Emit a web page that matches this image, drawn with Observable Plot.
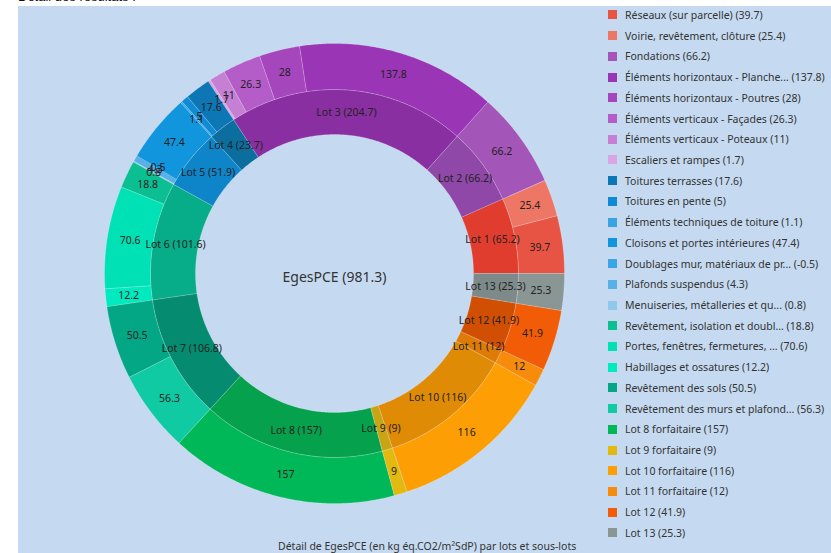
<!DOCTYPE html>
<html><head><meta charset="utf-8">
<script src="https://cdn.jsdelivr.net/npm/d3@7"></script>
<script src="https://cdn.jsdelivr.net/npm/@observablehq/plot@0.6"></script>
<style>
html,body{margin:0;padding:0;background:#fff;width:831px;height:553px;overflow:hidden;font-family:"Noto Sans",sans-serif;}
#title{position:absolute;left:18px;top:-11px;font-family:"Liberation Sans",Arial,sans-serif;font-size:13px;line-height:16px;color:#111;white-space:nowrap;}
#panel{position:absolute;left:18px;top:6px;width:813px;height:547px;background:#c5daf0;}
#chart{position:absolute;left:0;top:0;}
#legend{position:absolute;left:608px;top:4.6px;}
.row{height:20.72px;display:flex;align-items:center;font-size:10.5px;color:#333;white-space:nowrap;}
.sw{width:9px;height:9px;margin-right:8px;flex:none;}
#caption{position:absolute;left:278px;top:539px;font-size:10.5px;color:#333;white-space:nowrap;}
</style></head><body>
<div id="title">Détail des résultats :</div>
<div id="panel"></div>
<div id="chart"></div>
<div id="legend"></div>
<div id="caption"></div>
<script>
const lots = ["Lot 1","Lot 2","Lot 3","Lot 4","Lot 5","Lot 6","Lot 7","Lot 8","Lot 9","Lot 10","Lot 11","Lot 12","Lot 13"];
const lotValues = [65.2, 66.2, 204.7, 23.7, 51.9, 101.6, 106.8, 157, 9, 116, 12, 41.9, 25.3];
const lotColors = ["#e13d2f","#8f48a8","#8a2fa2","#0b6e9f","#0f85c9","#07ac88","#058c70","#06a14c","#c9a516","#e08b05","#de7a06","#d04f03","#7e8a89"];

const subLabels = [
  "Réseaux (sur parcelle)","Voirie, revêtement, clôture","Fondations",
  "Éléments horizontaux - Planche...","Éléments horizontaux - Poutres","Éléments verticaux - Façades","Éléments verticaux - Poteaux","Escaliers et rampes",
  "Toitures terrasses","Toitures en pente","Éléments techniques de toiture",
  "Cloisons et portes intérieures","Doublages mur, matériaux de pr...","Plafonds suspendus","Menuiseries, métalleries et qu...",
  "Revêtement, isolation et doubl...","Portes, fenêtres, fermetures, ...","Habillages et ossatures",
  "Revêtement des sols","Revêtement des murs et plafond...",
  "Lot 8 forfaitaire","Lot 9 forfaitaire","Lot 10 forfaitaire","Lot 11 forfaitaire","Lot 12","Lot 13"];
const subValues = [39.7, 25.4, 66.2, 137.8, 28, 26.3, 11, 1.7, 17.6, 5, 1.1, 47.4, -0.5, 4.3, 0.8, 18.8, 70.6, 12.2, 50.5, 56.3, 157, 9, 116, 12, 41.9, 25.3];
const subLots = [0,0,1,2,2,2,2,2,3,3,3,4,4,4,4,5,5,5,6,6,7,8,9,10,11,12];
const subColors = ["#e85444","#ee7665","#a455b8","#9a35b5","#a646bd","#b45cc8","#c580d4","#dba4e3",
  "#0d76b5","#0f8bd6","#3aa3e2","#1195dd","#3aa5e5","#58b0e6","#90c8ec",
  "#0cbf93","#00e2b6","#00eac0","#04a785","#0fcaa3",
  "#00b858","#e2b90e","#fd9e04","#f78b0c","#f25c06","#8a9694"];

const totalLabel = "EgesPCE";
const captionText = "Détail de EgesPCE (en kg éq.CO2/m²SdP) par lots et sous-lots";

const total = d3.sum(lotValues);
const R0 = 139, R1 = 184, R2 = 230;
const ang = v => v / total * 2 * Math.PI;

function poly(id, a0, a1, r0, r1, color) {
  const n = Math.max(2, Math.ceil((a1 - a0) / (Math.PI / 360)));
  const pts = [];
  for (let i = 0; i <= n; i++) { const a = a0 + (a1 - a0) * i / n; pts.push({id, color, x: r1 * Math.cos(a), y: r1 * Math.sin(a)}); }
  for (let i = n; i >= 0; i--) { const a = a0 + (a1 - a0) * i / n; pts.push({id, color, x: r0 * Math.cos(a), y: r0 * Math.sin(a)}); }
  pts.push({...pts[0]});
  return pts;
}

const arcRows = [];
const labelRows = [];
const lotStart = [];
let cum = 0;
lotValues.forEach((v, i) => {
  const a0 = ang(cum), a1 = ang(cum + v);
  lotStart.push(cum);
  arcRows.push(...poly("lot" + i, a0, a1, R0, R1, lotColors[i]));
  const am = (a0 + a1) / 2, rm = (R0 + R1) / 2;
  labelRows.push({x: rm * Math.cos(am), y: rm * Math.sin(am), text: `${lots[i]} (${v})`});
  cum += v;
});
const cursor = lotStart.slice();
subValues.forEach((v, j) => {
  const L = subLots[j];
  const s = cursor[L];
  const a0 = ang(s), a1 = ang(s + Math.max(0, v));
  if (v > 0) arcRows.push(...poly("sub" + j, a0, a1, R1, R2, subColors[j]));
  const am = (a0 + a1) / 2, rm = (R1 + R2) / 2;
  labelRows.push({x: rm * Math.cos(am), y: rm * Math.sin(am), text: `${v}`});
  cursor[L] = s + v;
});

const centerLabel = `${totalLabel} (${d3.format(".1f")(total)})`;

const chart = Plot.plot({
  width: 831, height: 553, margin: 0,
  x: {domain: [-334, 497], axis: null},
  y: {domain: [-280, 273], axis: null},
  color: {type: "identity"},
  style: {background: "transparent", fontFamily: "Noto Sans, sans-serif"},
  marks: [
    Plot.line(arcRows, {x: "x", y: "y", z: "id", fill: "color", stroke: "#ffffff", strokeOpacity: 0.3, strokeWidth: 0.6, curve: "linear"}),
    Plot.text(labelRows, {x: "x", y: "y", text: "text", fontSize: 10.5, fill: "#222"}),
    Plot.text([centerLabel], {x: () => 0, y: () => 0, text: d => d, fontSize: 14, fill: "#333", dy: 4})
  ]
});
document.getElementById("chart").appendChild(chart);

const legend = d3.select("#legend");
subLabels.forEach((lab, j) => {
  const row = legend.append("div").attr("class", "row");
  row.append("div").attr("class", "sw").style("background", subColors[j]);
  row.append("span").text(`${lab} (${subValues[j]})`);
});
document.getElementById("caption").textContent = captionText;
</script>
</body></html>
